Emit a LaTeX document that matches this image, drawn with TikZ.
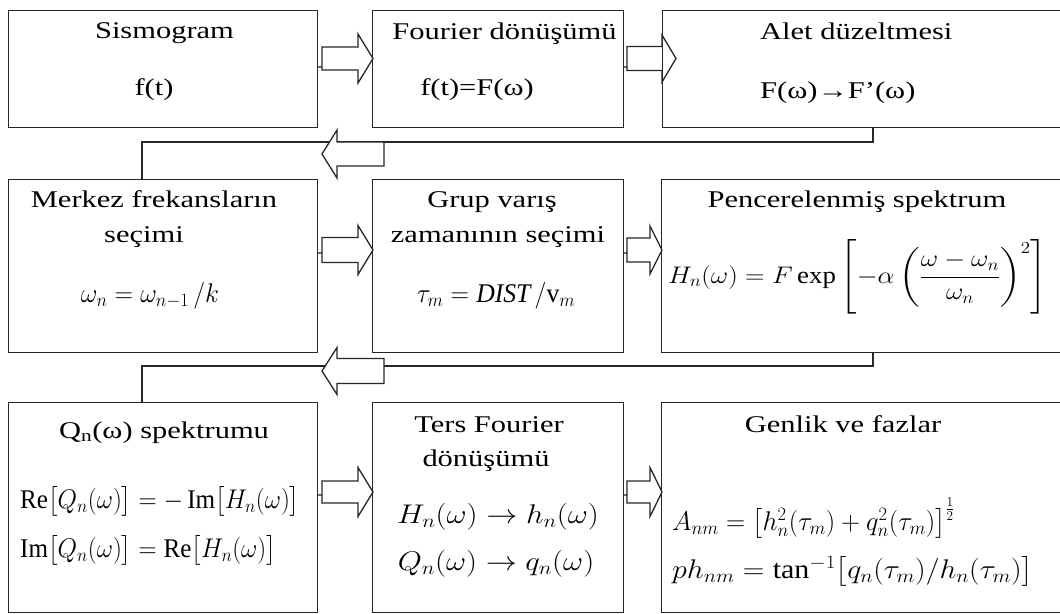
\documentclass[tikz,border=0pt]{standalone}
\usepackage{fix-cm}
\usepackage{fontspec}
\setmainfont{Liberation Serif}
\usepackage{amsmath}
\usepackage{graphicx}
\usetikzlibrary{calc}
\newcommand\hs[1]{\scalebox{1.27}[1]{#1}}
\newcommand\mx[2]{\scalebox{#1}[1]{#2}}
\tikzset{
  box/.style={draw=black!85, line width=1.3pt, anchor=north west, inner sep=0pt},
  txt/.style={inner sep=0pt, font=\fontsize{24}{28}\selectfont},
  mth/.style={inner sep=0pt, font=\fontsize{27}{32}\selectfont},
  barrow/.style={draw=black!85, line width=1.3pt, fill=white, line join=miter},
  conn/.style={draw=black!85, line width=1.3pt},
}
\begin{document}
\begin{tikzpicture}[x=1pt,y=-1pt]
\useasboundingbox (0,0) rectangle (1060,613);
% return connectors
\coordinate (c1) at (873,142);
\coordinate (c2) at (142,142);
\coordinate (c3) at (873,366);
\coordinate (c4) at (142,366);
\draw[conn] (873,127) -- (c1) -- (c2) -- (142,179);
\draw[conn] (873,352) -- (c3) -- (c4) -- (142,402);
% block arrows (right)
\draw[barrow] (317,67) -- (322,67) (322,47) -- (358,47) -- (358,34) -- (373,58.5) -- (358,83) -- (358,70) -- (322,70) -- cycle;
\draw[barrow] (623,67) -- (627,67) (627,46.5) -- (662,46.5) -- (662,35) -- (676,58.5) -- (662,82) -- (662,70.5) -- (627,70.5) -- cycle;
\draw[barrow] (317,253) -- (322,253) (322,237.5) -- (358,237.5) -- (358,225.5) -- (373,250) -- (358,274.5) -- (358,262.5) -- (322,262.5) -- cycle;
\draw[barrow] (623,253) -- (627,253) (627,238) -- (650,238) -- (650,226) -- (662,250) -- (650,274) -- (650,262) -- (627,262) -- cycle;
\draw[barrow] (317,495) -- (322,495) (322,481) -- (358,481) -- (358,467.5) -- (373,492) -- (358,516.5) -- (358,503) -- (322,503) -- cycle;
\draw[barrow] (623,495) -- (627,495) (627,481) -- (650,481) -- (650,467.5) -- (662,492) -- (650,516.5) -- (650,503) -- (627,503) -- cycle;
% block arrows (left)
\draw[barrow] (384,142) -- (337,142) -- (337,130) -- (322,154) -- (337,178) -- (337,166) -- (384,166) -- cycle;
\draw[barrow] (384,358.5) -- (337,358.5) -- (337,347.5) -- (322,371) -- (337,394.5) -- (337,383.5) -- (384,383.5) -- cycle;
% boxes
\node[box, minimum width=309pt, minimum height=117pt] (b1) at (8,10) {};
\node[box, minimum width=251pt, minimum height=117pt] (b2) at (372,10) {};
\node[box, minimum width=403pt, minimum height=117pt] (b3) at (662,10) {};
\node[box, minimum width=309pt, minimum height=173pt] (b4) at (8,179) {};
\node[box, minimum width=251pt, minimum height=173pt] (b5) at (372,179) {};
\node[box, minimum width=404pt, minimum height=173pt] (b6) at (661,179) {};
\node[box, minimum width=309pt, minimum height=210pt] (b7) at (8,402) {};
\node[box, minimum width=251pt, minimum height=210pt] (b8) at (372,402) {};
\node[box, minimum width=404pt, minimum height=210pt] (b9) at (661,402) {};
% texts row 1
\node[txt, anchor=base] (t1a) at (164.5,38) {\hs{Sismogram}};
\node[txt, anchor=base] (t1b) at (154,95) {\hs{f(t)}};
\node[txt, anchor=base] (t2a) at (504.5,39) {\hs{Fourier dönüşümü}};
\node[txt, anchor=base] (t2b) at (477,95) {\hs{f(t)=F(ω)}};
\node[txt, anchor=base west] (t3a) at (760,39) {\hs{Alet düzeltmesi}};
\node[txt, anchor=base west] (t3b) at (760,98) {\hs{F(ω)→F’(ω)}};
% row 2
\node[txt, anchor=base] (t4a) at (154,207) {\hs{Merkez frekansların}};
\node[txt, anchor=base] (t4b) at (144,242) {\hs{seçimi}};
\node[mth, anchor=base] (t4c) at (150,302) {\mx{0.95}{$\omega_n = \omega_{n-1}\,/k$}};
\node[txt, anchor=base] (t5a) at (492,207) {\hs{Grup varış}};
\node[txt, anchor=base] (t5b) at (498,242) {\hs{zamanının seçimi}};
\node[mth, anchor=base] (t5c) at (496,302) {\mx{0.95}{$\tau_m = \mathit{DIST}\,/\mathrm{v}_m$}};
\node[txt, anchor=base] (t6a) at (857,207) {\hs{Pencerelenmiş spektrum}};
\node[txt, anchor=center] (t6b) at (857.5,277) {\mx{1.12}{$\displaystyle H_n(\omega) = F\exp\left[-\alpha\left(\frac{\omega-\omega_n}{\omega_n}\right)^{2}\right]$}};
% row 3
\node[txt, anchor=base] (t7a) at (164,438) {\hs{Q\textsubscript{n}(ω) spektrumu}};
\node[mth, anchor=base west] (t7b) at (20,508) {\mx{0.93}{$\mathrm{Re}\bigl[Q_n(\omega)\bigr] = -\,\mathrm{Im}\bigl[H_n(\omega)\bigr]$}};
\node[mth, anchor=base west] (t7c) at (20,557) {\mx{0.93}{$\mathrm{Im}\bigl[Q_n(\omega)\bigr] = \mathrm{Re}\bigl[H_n(\omega)\bigr]$}};
\node[txt, anchor=base] (t8a) at (489,432) {\hs{Ters Fourier}};
\node[txt, anchor=base] (t8b) at (486,466) {\hs{dönüşümü}};
\node[mth, anchor=base] (t8c) at (498,523) {\mx{1.15}{$H_n(\omega)\rightarrow h_n(\omega)$}};
\node[mth, anchor=base] (t8d) at (496,570) {\mx{1.15}{$Q_n(\omega)\rightarrow q_n(\omega)$}};
\node[txt, anchor=base] (t9a) at (843,432) {\hs{Genlik ve fazlar}};
\node[mth, anchor=base west] (t9b) at (672,530) {\mx{0.98}{$A_{nm} = \bigl[h_n^2(\tau_m) + q_n^2(\tau_m)\bigr]^{\frac{1}{2}}$}};
\node[mth, anchor=base west] (t9c) at (672,578) {\mx{1.11}{$ph_{nm} = \tan^{-1}\bigl[q_n(\tau_m)/h_n(\tau_m)\bigr]$}};
\end{tikzpicture}
\end{document}
